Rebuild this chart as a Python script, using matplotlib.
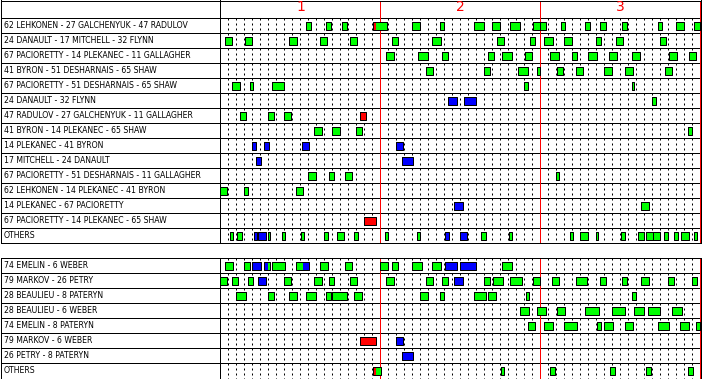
import matplotlib
matplotlib.use("Agg")
import matplotlib.pyplot as plt
from matplotlib import font_manager

# Etiquetas de las líneas (tabla de delanteros y tabla de defensas)
lineas_ataque = [
    "62 LEHKONEN - 27 GALCHENYUK - 47 RADULOV",
    "24 DANAULT - 17 MITCHELL - 32 FLYNN",
    "67 PACIORETTY - 14 PLEKANEC - 11 GALLAGHER",
    "41 BYRON - 51 DESHARNAIS - 65 SHAW",
    "67 PACIORETTY - 51 DESHARNAIS - 65 SHAW",
    "24 DANAULT - 32 FLYNN",
    "47 RADULOV - 27 GALCHENYUK - 11 GALLAGHER",
    "41 BYRON - 14 PLEKANEC - 65 SHAW",
    "14 PLEKANEC - 41 BYRON",
    "17 MITCHELL - 24 DANAULT",
    "67 PACIORETTY - 51 DESHARNAIS - 11 GALLAGHER",
    "62 LEHKONEN - 14 PLEKANEC - 41 BYRON",
    "14 PLEKANEC - 67 PACIORETTY",
    "67 PACIORETTY - 14 PLEKANEC - 65 SHAW",
    "OTHERS",
]
lineas_defensa = [
    "74 EMELIN - 6 WEBER",
    "79 MARKOV - 26 PETRY",
    "28 BEAULIEU - 8 PATERYN",
    "28 BEAULIEU - 6 WEBER",
    "74 EMELIN - 8 PATERYN",
    "79 MARKOV - 6 WEBER",
    "26 PETRY - 8 PATERYN",
    "OTHERS",
]
periodos = ["1", "2", "3"]

# Turnos en minutos de juego: (inicio, fin, color)  g=par, b=superioridad, r=inferioridad
turnos_ataque = [
    [(10.75, 11.3, "g"), (13.25, 13.8, "g"), (15.25, 15.8, "g"), (19.1, 20.8, "g"), (23.9, 24.95, "g"),
     (27.4, 28.0, "g"), (31.75, 32.95, "g"), (33.9, 34.9, "g"), (36.25, 37.5, "g"), (39.1, 39.95, "g"),
     (39.95, 40.7, "g"), (42.6, 43.1, "g"), (45.6, 46.2, "g"), (47.4, 48.2, "g"), (50.25, 50.8, "g"),
     (54.75, 55.2, "g"), (56.9, 57.95, "g"), (59.25, 59.95, "g")],
    [(0.6, 1.45, "g"), (3.1, 3.95, "g"), (8.6, 9.6, "g"), (12.4, 13.3, "g"), (16.25, 17.1, "g"),
     (21.5, 22.2, "g"), (26.4, 27.6, "g"), (34.6, 35.5, "g"), (38.75, 39.3, "g"), (40.5, 41.6, "g"),
     (42.9, 44.0, "g"), (46.9, 47.6, "g"), (49.4, 50.3, "g"), (54.9, 55.7, "g")],
    [(20.75, 21.7, "g"), (24.75, 25.95, "g"), (27.75, 28.4, "g"), (33.5, 34.2, "g"), (35.25, 36.5, "g"),
     (38.1, 38.95, "g"), (41.25, 42.3, "g"), (43.9, 44.6, "g"), (46.0, 47.1, "g"), (48.6, 49.6, "g"),
     (51.5, 52.5, "g"), (56.1, 57.1, "g"), (58.6, 59.5, "g")],
    [(25.75, 26.6, "g"), (33.0, 33.7, "g"), (37.25, 38.4, "g"), (39.6, 40.0, "g"), (42.1, 42.8, "g"),
     (44.4, 45.3, "g"), (48.0, 48.95, "g"), (50.6, 51.6, "g"), (55.6, 56.5, "g")],
    [(1.4, 2.5, "g"), (3.7, 4.1, "g"), (6.5, 7.95, "g"), (38.0, 38.4, "g"), (51.4, 51.75, "g")],
    [(28.4, 29.6, "b"), (30.5, 31.95, "b"), (53.9, 54.5, "g")],
    [(2.5, 3.2, "g"), (5.9, 6.7, "g"), (7.9, 8.8, "g"), (17.4, 18.2, "r")],
    [(11.75, 12.7, "g"), (14.0, 14.95, "g"), (16.9, 17.7, "g"), (58.4, 58.9, "g")],
    [(3.9, 4.5, "b"), (5.4, 6.1, "b"), (10.25, 11.1, "b"), (22.0, 22.8, "b")],
    [(4.4, 5.1, "b"), (22.7, 24.1, "b")],
    [(11.0, 11.95, "g"), (13.6, 14.2, "g"), (15.6, 16.5, "g"), (42.0, 42.3, "g")],
    [(0.0, 0.8, "g"), (2.9, 3.5, "g"), (9.4, 10.3, "g")],
    [(29.25, 30.3, "b"), (52.6, 53.6, "g")],
    [(18.0, 19.45, "r")],
    [(1.25, 1.6, "g"), (2.1, 2.7, "g"), (4.25, 4.6, "b"), (4.75, 5.7, "b"), (5.9, 6.2, "g"),
     (7.75, 8.1, "g"), (10.1, 10.5, "g"), (13.0, 13.5, "g"), (14.6, 15.5, "g"), (16.75, 17.2, "g"),
     (20.6, 20.95, "g"), (24.6, 24.95, "g"), (28.1, 28.6, "b"), (30.0, 30.8, "b"), (32.6, 33.2, "g"),
     (36.1, 36.5, "g"), (43.75, 44.1, "g"), (45.0, 45.9, "g"), (46.9, 47.2, "g"), (50.1, 50.6, "g"),
     (52.25, 52.95, "g"), (53.25, 54.1, "g"), (54.1, 54.95, "g"), (55.5, 55.95, "g"), (56.75, 57.2, "g"),
     (57.6, 58.6, "g"), (59.25, 59.6, "g")],
]
turnos_defensa = [
    [(0.6, 1.6, "g"), (2.9, 3.7, "g"), (3.9, 5.1, "b"), (5.4, 6.2, "b"), (6.5, 8.1, "g"),
     (9.4, 11.1, "g"), (12.4, 13.5, "g"), (15.6, 16.5, "g"), (19.9, 21.0, "g"), (21.5, 22.2, "g"),
     (23.9, 25.2, "g"), (26.4, 27.6, "g"), (28.1, 29.6, "b"), (30.0, 31.95, "b"), (35.25, 36.5, "g")],
    [(0.0, 0.8, "g"), (1.4, 2.2, "g"), (3.5, 4.1, "g"), (4.75, 5.7, "b"), (7.9, 8.8, "g"),
     (11.75, 12.7, "g"), (13.6, 14.2, "g"), (16.25, 17.1, "g"), (20.75, 21.7, "g"), (25.75, 26.6, "g"),
     (27.75, 28.4, "g"), (29.25, 30.3, "b"), (33.0, 33.7, "g"), (34.1, 35.3, "g"), (36.25, 37.7, "g"),
     (39.1, 39.95, "g"), (41.5, 42.3, "g"), (44.4, 45.8, "g"), (47.4, 48.2, "g"), (50.25, 50.8, "g"),
     (52.6, 53.6, "g"), (55.9, 56.7, "g"), (58.9, 59.6, "g")],
    [(1.9, 3.2, "g"), (5.9, 6.7, "g"), (8.6, 9.6, "g"), (10.75, 11.95, "g"), (13.25, 13.8, "g"),
     (14.0, 15.8, "g"), (16.75, 17.7, "g"), (25.0, 25.95, "g"), (27.4, 27.95, "g"), (31.75, 33.2, "g"),
     (33.5, 34.5, "g"), (38.25, 38.6, "g"), (51.4, 51.95, "g")],
    [(37.4, 38.6, "g"), (39.6, 40.65, "g"), (42.1, 43.1, "g"), (45.6, 47.3, "g"), (49.0, 50.6, "g"),
     (51.75, 52.95, "g"), (53.5, 54.95, "g"), (56.4, 57.7, "g")],
    [(38.4, 39.3, "g"), (40.5, 41.6, "g"), (42.9, 44.6, "g"), (47.1, 47.6, "g"), (48.0, 49.1, "g"),
     (50.6, 51.6, "g"), (54.75, 56.1, "g"), (57.5, 58.6, "g"), (59.4, 60.0, "g")],
    [(17.4, 19.45, "r"), (22.0, 22.8, "b")],
    [(22.7, 24.1, "b")],
    [(19.1, 20.1, "g"), (35.1, 35.5, "g"), (41.25, 41.8, "g"), (48.75, 49.3, "g"), (53.25, 53.8, "g"),
     (58.4, 59.1, "g")],
]
# Partes de un turno con otra situación: (fila, inicio, fin, color)
cambios_ataque = [(0, 19.2, 19.5, "r")]
cambios_defensa = [(0, 5.95, 6.2, "g"), (0, 10.3, 11.1, "b"), (7, 19.2, 19.5, "r")]

colores = {"g": "#00ff00", "b": "#0000ff", "r": "#ff0000"}

# Fuente de las etiquetas
try:
    font_manager.findfont(font_manager.FontProperties(family="Liberation Sans Narrow"),
                          fallback_to_default=False)
    fuente, tam = "Liberation Sans Narrow", 7.2
except ValueError:
    fuente, tam = "DejaVu Sans", 5.6

W, H = 702, 379
LW = 0.72  # un pixel
ALTO = 8 / 15  # alto de cada caja en filas

fig = plt.figure(figsize=(W / 100, H / 100), dpi=100)


def ejes(izq, arriba, der, abajo):
    ax = fig.add_axes([izq / W, 1 - abajo / H, (der - izq) / W, (abajo - arriba) / H])
    ax.set_xticks([])
    ax.set_yticks([])
    for s in ax.spines.values():
        s.set_linewidth(LW)
        s.set_color("black")
    return ax


def tabla(arriba, abajo, etiquetas, turnos, cambios, cabecera):
    n = len(etiquetas)
    y_top = -1.2 if cabecera else 0
    axl = ejes(0.5, arriba, 219.5, abajo)
    axg = ejes(219.5, arriba, 701.2, abajo)
    axl.set_xlim(0, 1)
    axg.set_xlim(-0.125, 60.09)
    for ax in (axl, axg):
        ax.set_ylim(n, y_top)
        for i in range(n):
            if i > 0 or cabecera:
                ax.axhline(i, color="black", lw=LW, zorder=2)

    for i, etiqueta in enumerate(etiquetas):
        axl.text(3.5 / 219, i + 0.5, etiqueta, fontsize=tam, family=[fuente, "DejaVu Sans"],
                 ha="left", va="center", color="black")

    # minutos punteados y fin de periodo
    minutos = [m for m in range(1, 60) if m % 20 != 0]
    axg.vlines(minutos, 0, n, colors="black", lw=LW, linestyles=(0, (2, 3)), zorder=1)
    for m in (20, 40, 60):
        axg.axvline(m, color="red", lw=LW, zorder=2)

    if cabecera:
        for k, p in enumerate(periodos):
            axg.text(10 + 20 * k, y_top + 7 / 15, p, color="red", fontsize=10,
                     ha="center", va="center")

    for i, fila in enumerate(turnos):
        y0 = i + 0.5 - ALTO / 2
        for c in "gbr":
            tramos = [(a, b - a) for a, b, col in fila if col == c]
            if tramos:
                axg.broken_barh(tramos, (y0, ALTO), facecolors=colores[c], linewidth=0, zorder=3)
    for i, a, b, c in cambios:
        axg.broken_barh([(a, b - a)], (i + 0.5 - ALTO / 2, ALTO), facecolors=colores[c],
                        linewidth=0, zorder=4)
    for i, fila in enumerate(turnos):
        y0 = i + 0.5 - ALTO / 2
        axg.broken_barh([(a, b - a) for a, b, col in fila], (y0, ALTO), facecolors="none",
                        edgecolors="black", linewidth=LW, zorder=5)


tabla(0.5, 243.3, lineas_ataque, turnos_ataque, cambios_ataque, True)
tabla(258.3, 378.5, lineas_defensa, turnos_defensa, cambios_defensa, False)

fig.savefig("out.png", dpi=100)
